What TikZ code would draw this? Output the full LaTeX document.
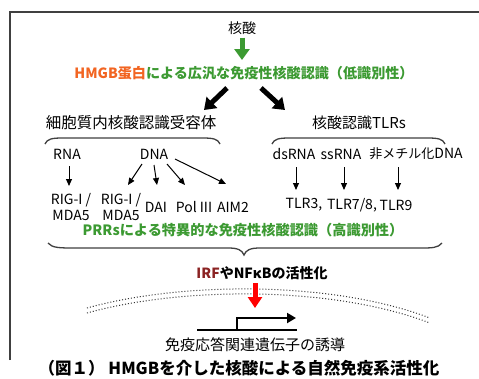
\documentclass[tikz,border=0pt]{standalone}
\usepackage{fontspec}
\setmainfont{Noto Sans CJK JP}
\usetikzlibrary{arrows.meta}
\definecolor{grn}{HTML}{3C9A32}
\definecolor{org}{HTML}{F26522}
\definecolor{drd}{HTML}{8B2323}
\tikzset{
  lbl/.style={inner sep=0pt, font=\fontsize{14}{16}\selectfont},
  thin/.style={line width=1pt, -{Triangle[length=7pt,width=6pt]}},
  fat/.style={line width=5pt, -{Triangle[length=11pt,width=15pt]}},
  brace/.style={line width=1.3pt, draw=black!75},
  memb/.style={line width=1pt, dotted, draw=black!80},
}
\begin{document}
\begin{tikzpicture}[x=1pt,y=-1pt]
\useasboundingbox (0,0) rectangle (479,378);
\fill[white] (0,0) rectangle (479,378);
% frame
\draw[line width=1.2pt, black!75] (10,360) -- (10,12) -- (481,12);
% top
\node[lbl, font=\fontsize{14}{16}\selectfont] (na) at (242,28) {核酸};
\node[inner sep=0pt, font=\fontsize{14.1}{16}\selectfont\bfseries] (hm) at (244,73) {\textcolor{org}{HMGB蛋白}\textcolor{grn}{による広汎な免疫性核酸認識（低識別性）}};
\draw[fat, grn] (na.south) ++(0,3) coordinate (g1) -- (242,60) coordinate (g2);
\coordinate (bl1) at (227,88); \coordinate (bl2) at (204,110);
\coordinate (br1) at (261,88); \coordinate (br2) at (285,110);
\draw[fat] (bl1) -- (bl2);
\draw[fat] (br1) -- (br2);
\node[lbl, font=\fontsize{15.5}{17}\selectfont] (cyt) at (131,123) {細胞質内核酸認識受容体};
\node[lbl, font=\fontsize{15}{17}\selectfont] (tlrs) at (359,123) {核酸認識TLRs};
% top braces
\draw[brace] (45,144) .. controls (47,139) and (52,138) .. (62,138) -- (203,138) .. controls (213,138) and (218,139) .. (220,144);
\draw[brace] (272,144) .. controls (274,139) and (279,138) .. (289,138) -- (428,138) .. controls (438,138) and (443,139) .. (445,144);
% row 1
\node[lbl] (rna) at (67,154) {RNA};
\node[lbl] (dna) at (154,154) {DNA};
\node[lbl] (ds) at (294,154) {dsRNA};
\node[lbl] (ss) at (341,154) {ssRNA};
\node[lbl] (um) at (416,154) {{\fontsize{13}{16}\selectfont 非メチル化}DNA};
% row 2
\node[lbl, align=center] (rig1) at (71,207) {RIG-I /\\MDA5};
\node[lbl, align=center] (rig2) at (121,207) {RIG-I /\\MDA5};
\node[lbl] (dai) at (156,207) {DAI};
\node[lbl] (pol) at (194,207) {Pol III};
\node[lbl] (aim) at (233,207) {AIM2};
\node[lbl] (t3) at (304,205) {TLR3,};
\node[lbl] (t78) at (352,205) {TLR7/8,};
\node[lbl] (t9) at (396,205) {TLR9};
% thin arrows
\draw[thin] (69,166) -- (69,186);
\draw[thin] (142,164) -- (128,185);
\draw[thin] (154,165) -- (157,185);
\draw[thin] (167,164) -- (185,185);
\draw[thin] (175,159) -- (226,184);
\draw[thin] (296,167) -- (296,190);
\draw[thin] (344,167) -- (344,190);
\draw[thin] (398,167) -- (398,190);
% PRRs line
\node[inner sep=0pt, font=\fontsize{14.2}{16}\selectfont\bfseries, text=grn] (prr) at (243,230) {PRRsによる特異的な免疫性核酸認識（高識別性）};
% bottom brace
\draw[brace] (48,243) .. controls (52,248) and (60,248) .. (75,248) -- (228,248) .. controls (238,248) and (242,250) .. (244,255) .. controls (246,250) and (250,248) .. (260,248) -- (420,248) .. controls (432,248) and (438,248) .. (442,243);
% IRF
\node[inner sep=0pt, font=\fontsize{14}{16}\selectfont\bfseries] (irf) at (262,273) {\textcolor{drd}{IRF}やNFκBの活性化};
% membrane
\draw[memb] (87,308) .. controls (180,282) and (330,280) .. (430,318);
\draw[memb] (87,313) .. controls (180,287) and (330,285) .. (430,323);
% red arrow
\coordinate (r1) at (255,283); \coordinate (r2) at (255,308);
\draw[line width=5pt, red, -{Triangle[length=11pt,width=14pt]}] (r1) -- (r2);
% gene
\coordinate (ga) at (197,330); \coordinate (gb) at (297,330);
\draw[line width=2pt] (ga) -- (gb);
\coordinate (pa) at (237,330); \coordinate (pb) at (237,318); \coordinate (pc) at (296,318);
\draw[line width=2pt, -{Triangle[length=9pt,width=10pt]}] (pa) -- (pb) -- (pc);
\node[lbl, font=\fontsize{15}{17}\selectfont] (ind) at (255,345) {免疫応答関連遺伝子の誘導};
% caption
\node[inner sep=0pt, font=\fontsize{16.5}{18}\selectfont\bfseries] (cap) at (239,368) {（図１） HMGBを介した核酸による自然免疫系活性化};
\end{tikzpicture}
\end{document}
